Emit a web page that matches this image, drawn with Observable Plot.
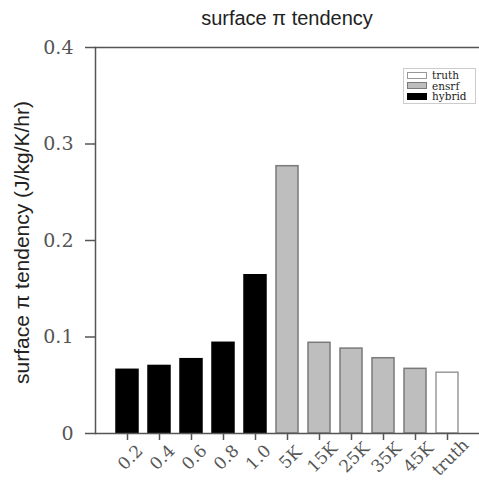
<!DOCTYPE html>
<html>
<head>
<meta charset="utf-8">
<script src="https://cdn.jsdelivr.net/npm/d3@7"></script>
<script src="https://cdn.jsdelivr.net/npm/@observablehq/plot@0.6"></script>
<style>
  body { margin: 0; background: #fff; }
  #wrap { position: relative; width: 479px; height: 483px; }
  #title { height: 30px; font-family: "Liberation Sans", Arial, sans-serif; font-size: 20px; color: #222;
           text-align: center; padding-left: 95px; box-sizing: border-box; line-height: 36px; }
  #legend { position: absolute; left: 403px; top: 68px; width: 73px; padding: 1px 0 1px 3px; box-sizing: border-box;
            border: 1px solid #ccc; font-family: "DejaVu Serif", serif; font-size: 10.5px; color: #222; background: #fff; }
  #legend .row { display: flex; align-items: center; height: 10.5px; line-height: 10.5px; }
  #legend .sw { width: 20px; height: 7px; margin-right: 5px; box-sizing: border-box; border: 1px solid #888; }
</style>
</head>
<body>
<div id="wrap">
  <div id="title">surface π tendency</div>
  <div id="chart"></div>
  <div id="legend"></div>
</div>
<script>
const categories = ["0.2", "0.4", "0.6", "0.8", "1.0", "5K", "15K", "25K", "35K", "45K", "truth"];
const values = [0.066, 0.070, 0.077, 0.094, 0.164, 0.277, 0.094, 0.088, 0.078, 0.067, 0.063];
const groups = ["hybrid", "hybrid", "hybrid", "hybrid", "hybrid", "ensrf", "ensrf", "ensrf", "ensrf", "ensrf", "truth"];
const yTicks = [0, 0.1, 0.2, 0.3, 0.4];
const legendLabels = ["truth", "ensrf", "hybrid"];
const groupFill = {truth: "#ffffff", ensrf: "#bebebe", hybrid: "#000000"};
const groupStroke = {truth: "#999999", ensrf: "#7a7a7a", hybrid: "#000000"};

const data = categories.map((c, i) => ({cat: c, val: values[i], group: groups[i]}));

const barMarks = legendLabels.map(g => Plot.barY(data.filter(d => d.group === g), {
  x: "cat", y: "val", fill: groupFill[g], stroke: groupStroke[g], strokeWidth: 1.5
}));

const chart = Plot.plot({
  width: 479,
  height: 453,
  marginLeft: 95,
  marginRight: 0,
  marginTop: 17,
  marginBottom: 50,
  x: {domain: categories, paddingInner: 0.3, paddingOuter: 0.64},
  y: {domain: [0, 0.4]},
  marks: [
    ...barMarks,
    Plot.ruleY([0, 0.4], {stroke: "#555", strokeWidth: 1.5}),
    Plot.frame({anchor: "left", stroke: "#555", strokeWidth: 1.5}),
    Plot.axisY({ticks: yTicks, tickFormat: d => d === 0 ? "0" : d.toFixed(1), tickSize: 10, tickPadding: 12,
                fontSize: 19, fontFamily: "DejaVu Serif", color: "#555", label: null, strokeWidth: 1.5}),
    Plot.axisX({tickSize: 7, tickFormat: () => "", color: "#555", label: null, strokeWidth: 1.5}),
    Plot.text(categories, {x: d => d, frameAnchor: "bottom", rotate: -45, textAnchor: "middle", lineAnchor: "middle",
                dx: 3, dy: 24, fontSize: 17, fontFamily: "DejaVu Serif", fill: "#555"}),
    Plot.text(["surface π tendency (J/kg/K/hr)"], {frameAnchor: "left", rotate: -90, textAnchor: "middle", dx: -73, dy: 2,
                fontSize: 21, fontFamily: "Liberation Sans", fill: "#222"})
  ]
});
document.getElementById("chart").appendChild(chart);

const legend = document.getElementById("legend");
legendLabels.forEach(g => {
  const row = document.createElement("div");
  row.className = "row";
  const sw = document.createElement("div");
  sw.className = "sw";
  sw.style.background = groupFill[g];
  sw.style.borderColor = groupStroke[g] === "#000000" ? "#000" : groupStroke[g];
  const t = document.createElement("span");
  t.textContent = g;
  row.appendChild(sw);
  row.appendChild(t);
  legend.appendChild(row);
});
</script>
</body>
</html>
